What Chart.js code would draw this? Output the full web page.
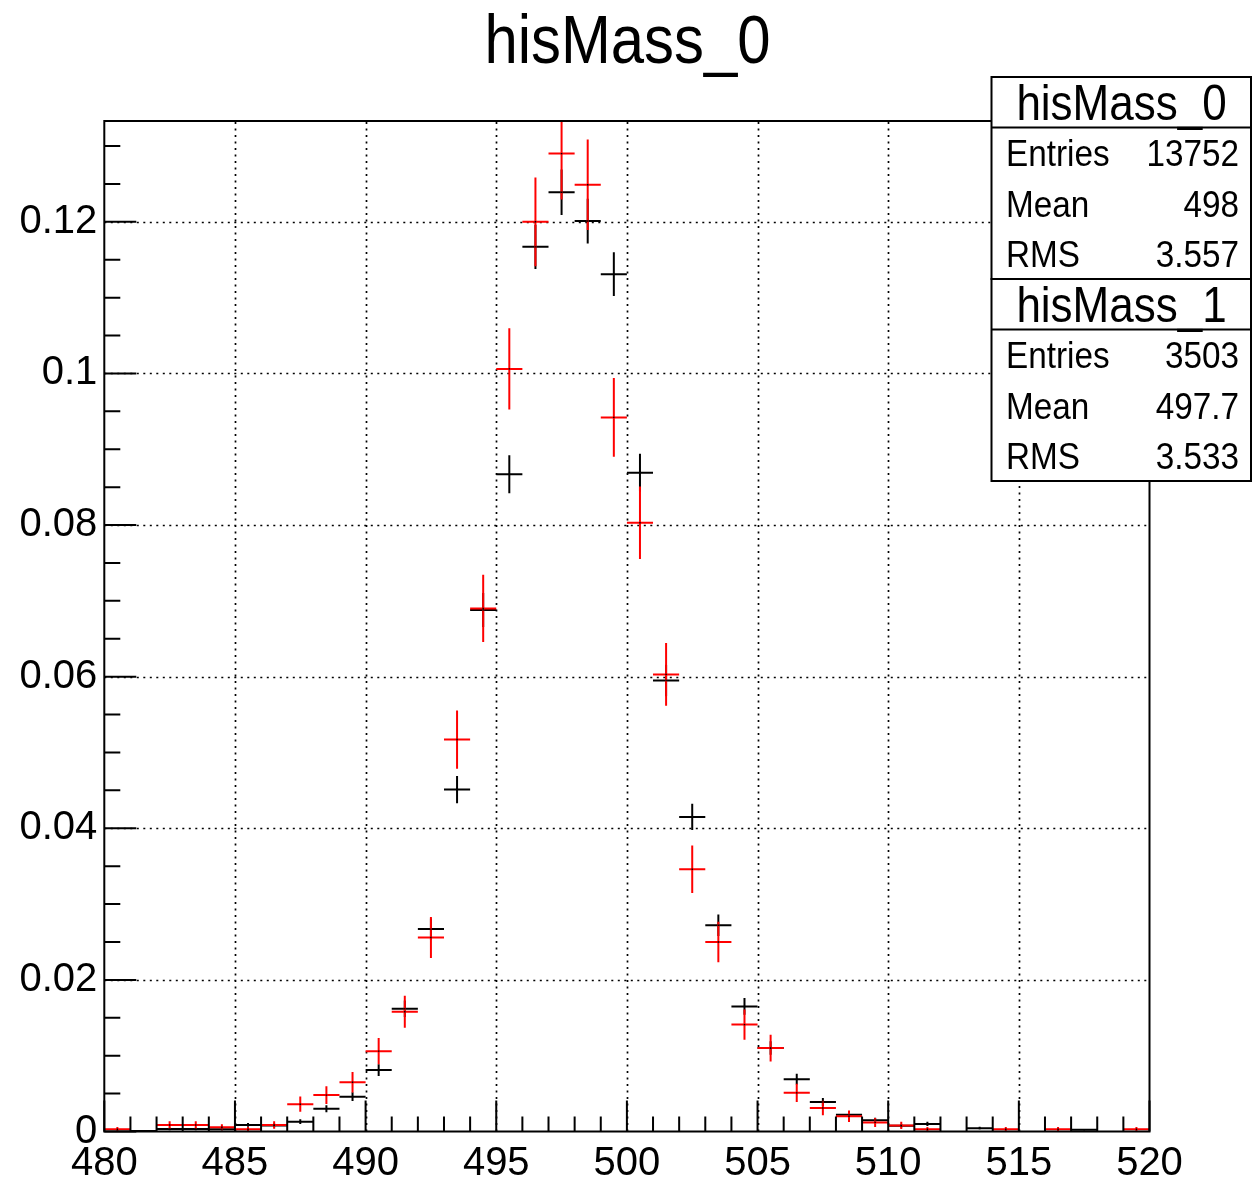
<!DOCTYPE html>
<html>
<head>
<meta charset="utf-8">
<title>hisMass_0</title>
<script src="https://cdn.jsdelivr.net/npm/chart.js@4.4.1/dist/chart.umd.min.js"></script>
<style>
  html, body { margin: 0; padding: 0; background: #fff; }
  #wrap { position: relative; width: 1252px; height: 1179px; overflow: hidden; }
  #plot { position: absolute; left: 0; top: 0; }
  #overlay { position: absolute; left: 0; top: 0; pointer-events: none; }
  #overlay text { font-family: "Liberation Sans", Arial, Helvetica, sans-serif; fill: #000; }
</style>
</head>
<body>
<div id="wrap">
  <canvas id="plot" width="1252" height="1179"></canvas>
  <svg id="overlay" width="1252" height="1179" xmlns="http://www.w3.org/2000/svg">
    <text transform="translate(627.5,63) scale(0.88,1)" text-anchor="middle" font-size="68">hisMass_0</text>

    <!-- statistics box for hisMass_0 -->
    <rect x="991.5" y="77" width="259.5" height="202" fill="#fff" stroke="#000" stroke-width="2"/>
    <line x1="991.5" y1="127.5" x2="1251" y2="127.5" stroke="#000" stroke-width="2"/>
    <text transform="translate(1121.5,119.5) scale(0.88,1)" text-anchor="middle" font-size="50">hisMass_0</text>
    <text transform="translate(1006,166) scale(0.9,1)" font-size="37">Entries</text>
    <text transform="translate(1239,166) scale(0.9,1)" text-anchor="end" font-size="37">13752</text>
    <text transform="translate(1006,216.5) scale(0.9,1)" font-size="37">Mean</text>
    <text transform="translate(1239,216.5) scale(0.9,1)" text-anchor="end" font-size="37">498</text>
    <text transform="translate(1006,267) scale(0.9,1)" font-size="37">RMS</text>
    <text transform="translate(1239,267) scale(0.9,1)" text-anchor="end" font-size="37">3.557</text>

    <!-- statistics box for hisMass_1 -->
    <rect x="991.5" y="279" width="259.5" height="202" fill="#fff" stroke="#000" stroke-width="2"/>
    <line x1="991.5" y1="329.5" x2="1251" y2="329.5" stroke="#000" stroke-width="2"/>
    <text transform="translate(1121.5,321.5) scale(0.88,1)" text-anchor="middle" font-size="50">hisMass_1</text>
    <text transform="translate(1006,368) scale(0.9,1)" font-size="37">Entries</text>
    <text transform="translate(1239,368) scale(0.9,1)" text-anchor="end" font-size="37">3503</text>
    <text transform="translate(1006,418.5) scale(0.9,1)" font-size="37">Mean</text>
    <text transform="translate(1239,418.5) scale(0.9,1)" text-anchor="end" font-size="37">497.7</text>
    <text transform="translate(1006,469) scale(0.9,1)" font-size="37">RMS</text>
    <text transform="translate(1239,469) scale(0.9,1)" text-anchor="end" font-size="37">3.533</text>
  </svg>
</div>
<script>
// Bin centres of the mass histograms (1 unit wide bins, 480..520)
const binCenters = [
  480.5, 481.5, 482.5, 483.5, 484.5, 485.5, 486.5, 487.5, 488.5, 489.5,
  490.5, 491.5, 492.5, 493.5, 494.5, 495.5, 496.5, 497.5, 498.5, 499.5,
  500.5, 501.5, 502.5, 503.5, 504.5, 505.5, 506.5, 507.5, 508.5, 509.5,
  510.5, 511.5, 512.5, 513.5, 514.5, 515.5, 516.5, 517.5, 518.5, 519.5
];
const binHalfWidth = 0.5;

// hisMass_0 (normalised contents and their errors)
const mass0 = [
  0, 0.00007, 0.00033, 0.00033, 0.00029, 0.00087, 0.0008, 0.0013, 0.0030, 0.0046,
  0.0081, 0.0162, 0.0267, 0.0451, 0.0688, 0.0867, 0.1167, 0.1239, 0.1201, 0.1131,
  0.0869, 0.0595, 0.0415, 0.0272, 0.0165, 0.0110, 0.0069, 0.0039, 0.0022, 0.0015,
  0.00075, 0.0010, 0, 0.00044, 0, 0, 0, 0.00022, 0, 0
];
const mass0Err = [
  0, 0.00007, 0.00016, 0.00016, 0.00015, 0.00025, 0.00024, 0.00031, 0.00047, 0.00058,
  0.00077, 0.00109, 0.00139, 0.00181, 0.00224, 0.00251, 0.00291, 0.00300, 0.00296, 0.00287,
  0.00251, 0.00208, 0.00174, 0.00141, 0.00110, 0.00089, 0.00071, 0.00053, 0.00040, 0.00033,
  0.00023, 0.00027, 0, 0.00018, 0, 0, 0, 0.00013, 0, 0
];

// hisMass_1 (normalised contents and their errors)
const mass1 = [
  0.00029, 0, 0.00086, 0.00086, 0.00057, 0.00029, 0.00086, 0.0036, 0.0048, 0.0065,
  0.0106, 0.0158, 0.0256, 0.0517, 0.0690, 0.1006, 0.1200, 0.1290, 0.1249, 0.0942,
  0.0803, 0.0603, 0.0346, 0.0250, 0.0141, 0.0110, 0.0051, 0.0031, 0.0020, 0.0012,
  0.0008, 0.00029, 0, 0, 0.00029, 0, 0.00029, 0, 0, 0.00029
];
const mass1Err = [
  0.00029, 0, 0.00050, 0.00050, 0.00040, 0.00029, 0.00050, 0.00101, 0.00117, 0.00136,
  0.00174, 0.00212, 0.00270, 0.00384, 0.00444, 0.00536, 0.00585, 0.00607, 0.00597, 0.00519,
  0.00479, 0.00415, 0.00314, 0.00267, 0.00201, 0.00177, 0.00121, 0.00094, 0.00076, 0.00059,
  0.00048, 0.00029, 0, 0, 0.00029, 0, 0.00029, 0, 0, 0.00029
];

// Axis labels
const xTickLabels = [480, 485, 490, 495, 500, 505, 510, 515, 520];
const yTickLabels = [0, 0.02, 0.04, 0.06, 0.08, 0.1, 0.12];

const series = [
  { label: 'hisMass_0', values: mass0, errors: mass0Err, color: '#000000' },
  { label: 'hisMass_1', values: mass1, errors: mass1Err, color: '#ff0000' }
];

function points(s) {
  const out = [];
  binCenters.forEach((c, i) => {
    if (s.values[i] > 0) out.push({ x: c, y: s.values[i], e: s.errors[i] });
  });
  return out;
}

// Grid, error crosses, frame and inward ticks in ROOT style
const rootStyle = {
  id: 'rootStyle',
  beforeDatasetsDraw(chart) {
    const { ctx, chartArea: a, scales: { x, y } } = chart;
    ctx.save();
    ctx.strokeStyle = '#000';
    ctx.lineWidth = 1.7;
    ctx.setLineDash([2, 4.5]);
    ctx.beginPath();
    xTickLabels.forEach(v => {
      if (v <= x.min || v >= x.max) return;
      const px = Math.round(x.getPixelForValue(v)) + 0.5;
      ctx.moveTo(px, a.bottom); ctx.lineTo(px, a.top);
    });
    yTickLabels.forEach(v => {
      if (v <= y.min || v >= y.max) return;
      const py = Math.round(y.getPixelForValue(v)) + 0.5;
      ctx.moveTo(a.left, py); ctx.lineTo(a.right, py);
    });
    ctx.stroke();
    ctx.setLineDash([]);

    ctx.beginPath();
    ctx.rect(a.left, a.top, a.right - a.left, a.bottom - a.top);
    ctx.clip();
    ctx.lineWidth = 2;
    chart.data.datasets.forEach(ds => {
      ctx.strokeStyle = ds.crossColor;
      ctx.beginPath();
      ds.data.forEach(p => {
        const cx = x.getPixelForValue(p.x);
        const cy = y.getPixelForValue(p.y);
        ctx.moveTo(x.getPixelForValue(p.x - binHalfWidth), cy);
        ctx.lineTo(x.getPixelForValue(p.x + binHalfWidth), cy);
        if (p.e > 0) {
          ctx.moveTo(cx, y.getPixelForValue(p.y - p.e));
          ctx.lineTo(cx, y.getPixelForValue(p.y + p.e));
        }
      });
      ctx.stroke();
    });
    ctx.restore();
  },
  afterDatasetsDraw(chart) {
    const { ctx, chartArea: a, scales: { x, y } } = chart;
    ctx.save();
    ctx.strokeStyle = '#000';
    ctx.lineWidth = 2;
    ctx.beginPath();
    // x ticks: every unit, longer at the labelled values
    for (let v = Math.ceil(x.min); v <= x.max; v += 1) {
      const px = x.getPixelForValue(v);
      const len = xTickLabels.includes(v) ? 31 : 15;
      ctx.moveTo(px, a.bottom); ctx.lineTo(px, a.bottom - len);
    }
    // y ticks: every 0.005, longer at the labelled values
    for (let k = 0; k * 0.005 <= y.max; k++) {
      const v = k * 0.005;
      const py = y.getPixelForValue(v);
      const len = (k % 4 === 0) ? 32 : 16;
      ctx.moveTo(a.left, py); ctx.lineTo(a.left + len, py);
    }
    ctx.stroke();
    ctx.strokeRect(a.left, a.top, a.right - a.left, a.bottom - a.top);
    ctx.restore();
  }
};

const tickFont = { family: '"Liberation Sans", Arial, Helvetica, sans-serif', size: 40 };

new Chart(document.getElementById('plot'), {
  type: 'scatter',
  data: {
    datasets: series.map(s => ({
      label: s.label,
      data: points(s),
      crossColor: s.color,
      pointStyle: 'rect',
      pointRadius: 1,
      pointBackgroundColor: '#000',
      pointBorderWidth: 0,
      showLine: false
    }))
  },
  options: {
    responsive: false,
    animation: false,
    events: [],
    layout: { padding: { top: 121, right: 102.5, left: 0, bottom: 0 } },
    plugins: { legend: { display: false }, tooltip: { enabled: false }, title: { display: false } },
    scales: {
      x: {
        type: 'linear',
        min: 480, max: 520,
        afterBuildTicks: s => { s.ticks = xTickLabels.map(v => ({ value: v })); },
        afterFit: s => { s.height = 47.5; },
        grid: { display: false, drawTicks: false },
        border: { display: false },
        ticks: { font: tickFont, color: '#000', padding: 8, autoSkip: false, maxRotation: 0,
                 callback: v => String(v) }
      },
      y: {
        type: 'linear',
        min: 0, max: 0.1333,
        afterBuildTicks: s => { s.ticks = yTickLabels.map(v => ({ value: v })); },
        afterFit: s => { s.width = 104.3; },
        grid: { display: false, drawTicks: false },
        border: { display: false },
        ticks: { font: tickFont, color: '#000', padding: 7, autoSkip: false,
                 callback: v => String(+Number(v).toFixed(3)) }
      }
    }
  },
  plugins: [rootStyle]
});
</script>
</body>
</html>
